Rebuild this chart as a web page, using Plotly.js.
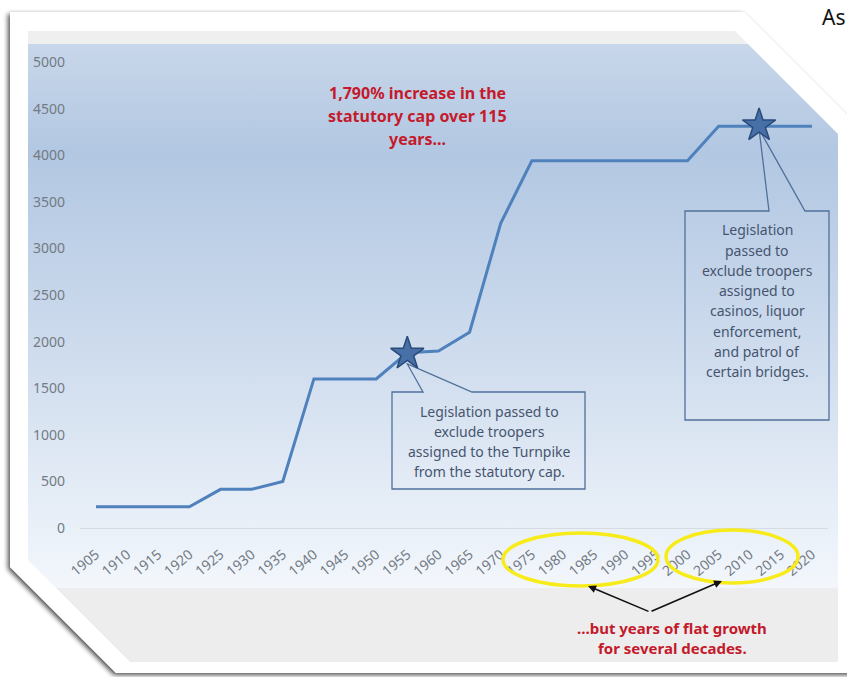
<!DOCTYPE html>
<html>
<head>
<meta charset="utf-8">
<script src="https://cdn.plot.ly/plotly-3.0.1.min.js"></script>
<style>
  html, body { margin: 0; padding: 0; background: #ffffff; }
  #chart { width: 847px; height: 677px; }
</style>
</head>
<body>
<div id="chart"></div>
<script>
// Statutory cap on the number of state troopers, 1905-2020
const years = [1905, 1910, 1915, 1920, 1925, 1930, 1935, 1940, 1945, 1950, 1955, 1960,
               1965, 1970, 1975, 1980, 1985, 1990, 1995, 2000, 2005, 2010, 2015, 2020];
const cap = [228, 228, 228, 228, 415, 415, 500, 1600, 1600, 1600, 1880, 1900,
             2100, 3270, 3940, 3940, 3940, 3940, 3940, 3940, 4310, 4310, 4310, 4310];
const tickLabels = years.map(String);

// Legislation milestones marked with stars
const starYears = [1955, 2011.5];
const starCaps = [1870, 4320];

const headline = ["1,790% increase in the", "statutory cap over 115", "years..."];
const footnote = ["...but years of flat growth", "for several decades."];
const turnpikeNote = ["Legislation passed to", "exclude troopers", "assigned to the Turnpike", "from the statutory cap."];
const casinoNote = ["Legislation", "passed to", "exclude troopers", "assigned to", "casinos, liquor",
                    "enforcement,", "and patrol of", "certain bridges."];

// ---- page geometry (pixels) ----
const W = 847, H = 677;
const L = 80, R = 828, T = 62, B = 528;
const xRange = [1902.43, 2022.57];
const yRange = [0, 5000];
const fx = px => (px - L) / (R - L);
const fy = py => (B - py) / (B - T);
const dataX = yr => (yr - xRange[0]) / (xRange[1] - xRange[0]);
const dataY = v => (v - yRange[0]) / (yRange[1] - yRange[0]);

// Framed card with bevelled corners and the gradient panel behind the plot
const cardSvg =
  '<svg xmlns="http://www.w3.org/2000/svg" width="847" height="677" viewBox="0 0 847 677" preserveAspectRatio="none">' +
  '<defs>' +
  '<filter id="sh" x="-5%" y="-5%" width="110%" height="110%">' +
  '<feGaussianBlur in="SourceAlpha" stdDeviation="2.8"/>' +
  '<feOffset dx="-2" dy="2" result="b"/>' +
  '<feComponentTransfer><feFuncA type="linear" slope="0.7"/></feComponentTransfer>' +
  '<feMerge><feMergeNode/><feMergeNode in="SourceGraphic"/></feMerge>' +
  '</filter>' +
  '<linearGradient id="bg" x1="0" y1="0" x2="0" y2="1">' +
  '<stop offset="0" stop-color="#c8d7ea"/>' +
  '<stop offset="0.2" stop-color="#b2c7e2"/>' +
  '<stop offset="0.55" stop-color="#cddbed"/>' +
  '<stop offset="1" stop-color="#f3f7fc"/>' +
  '</linearGradient>' +
  '<clipPath id="pc"><polygon points="28,31 735,31 838,134 838,662 130,662 28,560"/></clipPath>' +
  '</defs>' +
  '<polygon points="10,12 744,12 880,148 880,673 116,673 10,567" fill="#ffffff" filter="url(#sh)"/>' +
  '<g clip-path="url(#pc)">' +
  '<rect x="0" y="0" width="847" height="44" fill="#efefef"/>' +
  '<rect x="0" y="44" width="847" height="544" fill="url(#bg)"/>' +
  '<rect x="0" y="588" width="847" height="89" fill="#ededed"/>' +
  '</g>' +
  '</svg>';

const cardImage = {
  source: 'data:image/svg+xml;charset=utf-8,' + encodeURIComponent(cardSvg),
  xref: 'paper', yref: 'paper',
  x: fx(0), y: fy(0), sizex: W / (R - L), sizey: H / (B - T),
  xanchor: 'left', yanchor: 'top', sizing: 'stretch', layer: 'below'
};

const textFont = 'Noto Sans, Open Sans, sans-serif';
const annotations = [];

function addLines(lines, cx, y0, step, font) {
  lines.forEach((t, i) => {
    annotations.push({
      xref: 'paper', yref: 'paper', x: fx(cx), y: fy(y0 + i * step),
      text: t, showarrow: false, xanchor: 'center', yanchor: 'middle', font: font
    });
  });
}

const headFont = { family: textFont, size: 16, color: '#c41a2b', weight: 'bold' };
const footFont = { family: textFont, size: 15, color: '#c41a2b', weight: 'bold' };
const noteFont = { family: textFont, size: 14, color: '#46556f' };

addLines(headline.map(s => '<b>' + s + '</b>'), 417, 93, 23, headFont);
addLines(footnote.map(s => '<b>' + s + '</b>'), 672, 628, 20, footFont);
addLines(turnpikeNote, 489, 411.5, 20, noteFont);
addLines(casinoNote, 757, 230, 20.2, noteFont);

// Arrows from the footnote to the highlighted decades
annotations.push({
  xref: 'paper', yref: 'paper', x: fx(588), y: fy(586), ax: 62, ay: 26,
  text: '', showarrow: true, arrowhead: 2, arrowsize: 1, arrowwidth: 1.6, arrowcolor: '#111111'
});
annotations.push({
  xref: 'paper', yref: 'paper', x: fx(722), y: fy(581), ax: -72, ay: 31,
  text: '', showarrow: true, arrowhead: 2, arrowsize: 1, arrowwidth: 1.6, arrowcolor: '#111111'
});

annotations.push({
  xref: 'paper', yref: 'paper', x: fx(820), y: fy(17), text: 'As', showarrow: false,
  xanchor: 'left', yanchor: 'middle', font: { family: textFont, size: 21, color: '#111111' }
});

// Callout outlines pointing at the two stars
function callout(left, right, top, bottom, gapL, gapR, yr, v) {
  const p = (x, y) => fx(x) + ',' + fy(y);
  const tip = dataX(yr) + ',' + dataY(v);
  return {
    type: 'path', xref: 'paper', yref: 'paper', layer: 'below',
    path: 'M' + p(gapL, top) + ' L' + p(left, top) + ' L' + p(left, bottom) + ' L' + p(right, bottom) +
          ' L' + p(right, top) + ' L' + p(gapR, top) + ' L' + tip + ' Z',
    line: { color: '#50709a', width: 1.3 }, fillcolor: 'rgba(0,0,0,0)'
  };
}

const shapes = [
  callout(392, 585, 392, 489, 423, 472, starYears[0], starCaps[0] - 110),
  callout(685, 829, 211, 420, 769, 805, starYears[1], starCaps[1] - 40),
  {
    type: 'circle', xref: 'paper', yref: 'paper', layer: 'above',
    x0: fx(503), x1: fx(658), y0: fy(533), y1: fy(586),
    line: { color: '#f7ec1a', width: 3.5 }
  },
  {
    type: 'circle', xref: 'paper', yref: 'paper', layer: 'above',
    x0: fx(666), x1: fx(798), y0: fy(530), y1: fy(583),
    line: { color: '#f7ec1a', width: 3.5 }
  }
];

const traces = [
  {
    x: years, y: cap, type: 'scatter', mode: 'lines',
    line: { color: '#4f81bd', width: 3 }, hoverinfo: 'x+y'
  },
  {
    x: starYears, y: starCaps, type: 'scatter', mode: 'markers', cliponaxis: false,
    marker: { symbol: 'star', size: 25, color: '#4770a8', line: { color: '#2a4a7a', width: 1.5 } },
    hoverinfo: 'skip'
  }
];

const layout = {
  width: W, height: H,
  margin: { l: L, r: W - R, t: T, b: H - B, pad: 0 },
  paper_bgcolor: '#ffffff',
  plot_bgcolor: 'rgba(0,0,0,0)',
  showlegend: false,
  font: { family: textFont, color: '#7f7f7f' },
  xaxis: {
    type: 'linear', range: xRange, tickmode: 'array', tickvals: years, ticktext: tickLabels,
    tickangle: -40, showgrid: false, zeroline: false, showline: true, linecolor: '#d6dbe2', linewidth: 1,
    ticks: '', ticklabelstandoff: 12, tickfont: { family: textFont, size: 14, color: '#737a84' }
  },
  yaxis: {
    range: yRange, tickmode: 'array', tickvals: [0, 500, 1000, 1500, 2000, 2500, 3000, 3500, 4000, 4500, 5000],
    showgrid: false, zeroline: false, showline: false, ticks: '', ticklabelstandoff: 14,
    tickfont: { family: textFont, size: 14, color: '#737a84' }
  },
  images: [cardImage],
  shapes: shapes,
  annotations: annotations
};

Plotly.newPlot('chart', traces, layout, { staticPlot: true, displayModeBar: false });
</script>
</body>
</html>
